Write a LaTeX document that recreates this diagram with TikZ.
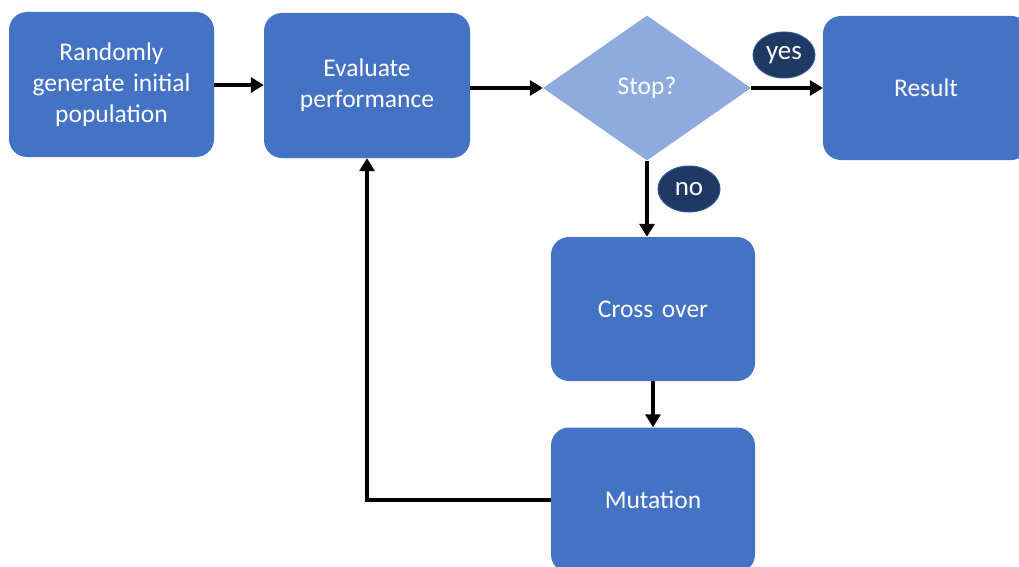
\documentclass[tikz,border=0pt]{standalone}
\usepackage{fontspec}
\setmainfont{Carlito}
\usetikzlibrary{shapes.geometric,arrows.meta}
\definecolor{boxblue}{HTML}{4472C4}
\definecolor{decblue}{HTML}{8FAADC}
\definecolor{tagnavy}{HTML}{203864}
\definecolor{tagedge}{HTML}{2F5597}
\tikzset{
  stepbox/.style={rectangle, rounded corners=18pt, fill=boxblue, draw=none,
    minimum width=205pt, minimum height=145pt, inner sep=0pt,
    text width=195pt, align=center, text=white,
    font=\fontsize{25.5}{31}\selectfont},
  decision/.style={diamond, fill=decblue, draw=none, inner sep=0pt,
    minimum width=208pt, minimum height=145pt, text=white,
    font=\fontsize{25.5}{31}\selectfont},
  tag/.style={ellipse, fill=tagnavy, draw=tagedge, line width=1pt,
    minimum width=62pt, minimum height=46pt, inner sep=0pt, text=white,
    font=\fontsize{27}{30}\selectfont},
  flow/.style={line width=3.2pt, black,
    -{Triangle[length=13pt,width=15pt]}}
}
\begin{document}
\begin{tikzpicture}[x=1pt,y=-1pt]
  \useasboundingbox (0,0) rectangle (1019,567);
  \clip (0,0) rectangle (1019,567);

  % process steps
  \node[stepbox] (init) at (111.5,84.5) {Randomly\\generate initial\\population};
  \node[stepbox, minimum width=206pt] (eval) at (367,85.5) {Evaluate\\performance};
  \node[decision] (stop) at (647,88) {Stop?};
  \node[stepbox, minimum width=206pt, minimum height=144pt] (result) at (926,88) {Result};
  \node[stepbox, minimum width=204pt, minimum height=144pt] (cross) at (653,309) {Cross over};
  \node[stepbox, minimum width=204pt] (mut) at (653,500) {Mutation};

  % connectors
  \draw[flow] (init.east |- 0,85) -- (eval.west |- 0,85);
  \draw[flow] (eval.east |- stop.west) -- (stop.west);
  \draw[flow] (stop.east) -- (result.west |- stop.east);
  \draw[flow] (stop.south) -- (stop.south |- cross.north);
  \draw[flow] (cross.south) -- (mut.north);
  \draw[flow] (mut.west) -| (eval.south);

  % branch labels
  \node[tag] (yes) at (784,55) {yes};
  \node[tag] (no) at (689,189) {no};
\end{tikzpicture}
\end{document}
